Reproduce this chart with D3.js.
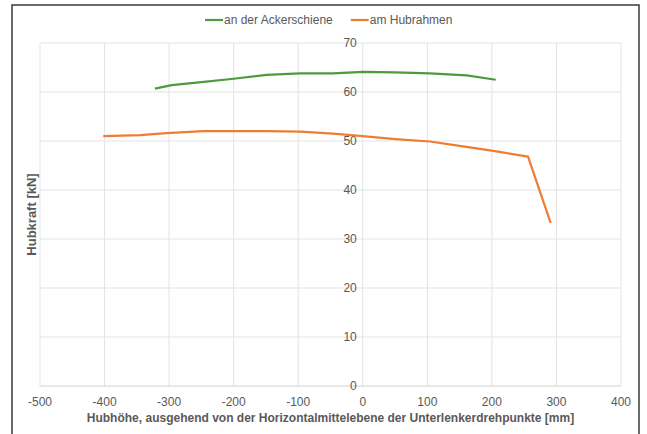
<!DOCTYPE html>
<html>
<head>
<meta charset="utf-8">
<script src="https://cdn.jsdelivr.net/npm/d3@7"></script>
<style>
  body { margin: 0; background: #fff; }
  svg { display: block; font-family: "Liberation Sans", Arial, sans-serif; }
</style>
</head>
<body>
<svg id="chart" width="647" height="434"></svg>
<script>
// Series (x in mm, y in kN)
const ackerX = [-322, -296, -250, -200, -149, -97, -46, 0, 50, 104, 161, 206];
const ackerY = [60.7, 61.4, 62.0, 62.7, 63.5, 63.8, 63.8, 64.1, 64.0, 63.8, 63.4, 62.5];
const hubX = [-402, -345, -304, -247, -200, -149, -97, -46, 0, 50, 104, 150, 202, 256, 291];
const hubY = [51.0, 51.2, 51.6, 52.0, 52.0, 52.0, 51.9, 51.5, 51.0, 50.4, 49.9, 49.0, 48.0, 46.8, 33.3];

const xTicks = [-500, -400, -300, -200, -100, 0, 100, 200, 300, 400];
const yTicks = [0, 10, 20, 30, 40, 50, 60, 70];
const seriesNames = ['an der Ackerschiene', 'am Hubrahmen'];
const seriesColors = ['#4e9a3f', '#ed7d31'];

const svg = d3.select('#chart');
const margin = { left: 40, right: 26, top: 43, bottom: 48 };
const width = 647, height = 434;
const textColor = '#595959';

// chart frame
svg.append('rect')
  .attr('x', 12).attr('y', 5)
  .attr('width', 627).attr('height', 440)
  .attr('fill', '#fff')
  .attr('stroke', '#3a3a3a')
  .attr('stroke-width', 1.5);

const x = d3.scaleLinear().domain([-500, 400]).range([margin.left, width - margin.right]);
const y = d3.scaleLinear().domain([0, 70]).range([height - margin.bottom, margin.top]);

// grid
svg.append('g').selectAll('line')
  .data(xTicks)
  .join('line')
  .attr('x1', d => x(d)).attr('x2', d => x(d))
  .attr('y1', y(0)).attr('y2', y(70))
  .attr('stroke', '#e3e3e3').attr('stroke-width', 1);

svg.append('g').selectAll('line')
  .data(yTicks)
  .join('line')
  .attr('x1', x(-500)).attr('x2', x(400))
  .attr('y1', d => y(d)).attr('y2', d => y(d))
  .attr('stroke', d => d === 0 ? '#d0d0d0' : '#e3e3e3').attr('stroke-width', 1);

// tick labels
svg.append('g').selectAll('text')
  .data(xTicks)
  .join('text')
  .attr('x', d => x(d))
  .attr('y', y(0) + 20)
  .attr('text-anchor', 'middle')
  .attr('font-size', 12)
  .attr('fill', textColor)
  .text(d => d);

svg.append('g').selectAll('text')
  .data(yTicks)
  .join('text')
  .attr('x', x(0) - 6)
  .attr('y', d => y(d))
  .attr('dy', '0.35em')
  .attr('text-anchor', 'end')
  .attr('font-size', 12)
  .attr('fill', textColor)
  .text(d => d);

// axis titles
svg.append('text')
  .attr('x', (x(-500) + x(400)) / 2)
  .attr('y', 422)
  .attr('text-anchor', 'middle')
  .attr('font-size', 12)
  .attr('font-weight', 'bold')
  .attr('fill', textColor)
  .text('Hubhöhe, ausgehend von der Horizontalmittelebene der Unterlenkerdrehpunkte [mm]');

svg.append('text')
  .attr('transform', `translate(36, ${(y(0) + y(70)) / 2}) rotate(-90)`)
  .attr('text-anchor', 'middle')
  .attr('font-size', 13)
  .attr('font-weight', 'bold')
  .attr('fill', textColor)
  .text('Hubkraft [kN]');

// lines
const line = d3.line().x(d => x(d[0])).y(d => y(d[1]));
const series = [d3.zip(ackerX, ackerY), d3.zip(hubX, hubY)];

svg.append('g').selectAll('path')
  .data(series)
  .join('path')
  .attr('d', line)
  .attr('fill', 'none')
  .attr('stroke', (d, i) => seriesColors[i])
  .attr('stroke-width', 2.2)
  .attr('stroke-linejoin', 'round');

// legend
const legend = svg.append('g').attr('transform', 'translate(205, 20)');
let lx = 0;
seriesNames.forEach((name, i) => {
  legend.append('line')
    .attr('x1', lx).attr('x2', lx + 18)
    .attr('y1', 0).attr('y2', 0)
    .attr('stroke', seriesColors[i]).attr('stroke-width', 2.2);
  const t = legend.append('text')
    .attr('x', lx + 19)
    .attr('y', 0)
    .attr('dy', '0.35em')
    .attr('font-size', 12)
    .attr('fill', textColor)
    .text(name);
  lx += 19 + t.node().getComputedTextLength() + 18;
});
</script>
</body>
</html>
